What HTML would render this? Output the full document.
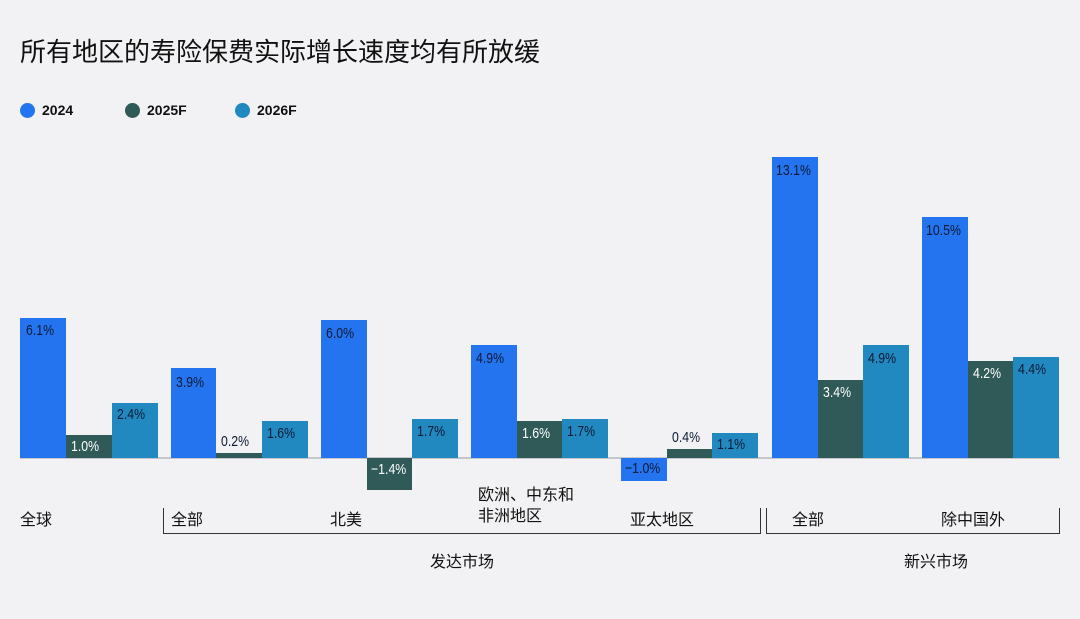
<!DOCTYPE html><html><head><meta charset="utf-8"><style>
body{margin:0;width:1080px;height:619px;background:#f2f2f4;position:relative;overflow:hidden;font-family:"Liberation Sans","Noto Sans CJK SC",sans-serif;color:#111}
.a{position:absolute}
.b{position:absolute}
.c1{background:#2474f0}.c2{background:#2f5a58}.c3{background:#2288c0}
.l{position:absolute;font-family:"Liberation Sans Narrow","Liberation Sans",sans-serif;font-size:15px;color:#0d1a33;white-space:nowrap;transform:scaleX(0.82);transform-origin:left top}
.w{color:#fff}
.cat{position:absolute;font-size:16px;top:506px;white-space:nowrap}
.lg{position:absolute;top:102px;font-size:14px;font-weight:bold}
.dot{position:absolute;top:103px;width:15px;height:15px;border-radius:50%}
</style></head><body>
<div class="a" style="left:20px;top:32px;font-size:26px;">所有地区的寿险保费实际增长速度均有所放缓</div>
<div class="dot c1" style="left:20px"></div><div class="lg" style="left:42px">2024</div>
<div class="dot c2" style="left:125px"></div><div class="lg" style="left:147px">2025F</div>
<div class="dot c3" style="left:235px"></div><div class="lg" style="left:257px">2026F</div>
<div class="a" style="left:20px;top:457px;width:1040px;height:2px;background:#c4c6cc"></div>

<div class="b c1" style="left:20px;top:318px;width:46px;height:140px"></div><div class="l" style="left:26px;top:322px">6.1%</div>
<div class="b c2" style="left:66px;top:435px;width:46px;height:23px"></div><div class="l w" style="left:71px;top:438px">1.0%</div>
<div class="b c3" style="left:112px;top:403px;width:46px;height:55px"></div><div class="l" style="left:117px;top:406px">2.4%</div>

<div class="b c1" style="left:171px;top:368px;width:45px;height:90px"></div><div class="l" style="left:176px;top:374px">3.9%</div>
<div class="b c2" style="left:216px;top:453px;width:46px;height:5px"></div><div class="l" style="left:221px;top:433px">0.2%</div>
<div class="b c3" style="left:262px;top:421px;width:46px;height:37px"></div><div class="l" style="left:267px;top:425px">1.6%</div>

<div class="b c1" style="left:321px;top:320px;width:46px;height:138px"></div><div class="l" style="left:326px;top:325px">6.0%</div>
<div class="b c2" style="left:367px;top:458px;width:45px;height:32px"></div><div class="l w" style="left:371px;top:461px">−1.4%</div>
<div class="b c3" style="left:412px;top:419px;width:46px;height:39px"></div><div class="l" style="left:417px;top:423px">1.7%</div>

<div class="b c1" style="left:471px;top:345px;width:46px;height:113px"></div><div class="l" style="left:476px;top:350px">4.9%</div>
<div class="b c2" style="left:517px;top:421px;width:45px;height:37px"></div><div class="l w" style="left:522px;top:425px">1.6%</div>
<div class="b c3" style="left:562px;top:419px;width:46px;height:39px"></div><div class="l" style="left:567px;top:423px">1.7%</div>

<div class="b c1" style="left:621px;top:458px;width:46px;height:23px"></div><div class="l" style="left:625px;top:460px">−1.0%</div>
<div class="b c2" style="left:667px;top:449px;width:45px;height:9px"></div><div class="l" style="left:672px;top:429px">0.4%</div>
<div class="b c3" style="left:712px;top:433px;width:46px;height:25px"></div><div class="l" style="left:717px;top:436px">1.1%</div>

<div class="b c1" style="left:772px;top:157px;width:46px;height:301px"></div><div class="l" style="left:776px;top:162px">13.1%</div>
<div class="b c2" style="left:818px;top:380px;width:45px;height:78px"></div><div class="l w" style="left:823px;top:384px">3.4%</div>
<div class="b c3" style="left:863px;top:345px;width:46px;height:113px"></div><div class="l" style="left:868px;top:350px">4.9%</div>

<div class="b c1" style="left:922px;top:217px;width:46px;height:241px"></div><div class="l" style="left:926px;top:222px">10.5%</div>
<div class="b c2" style="left:968px;top:361px;width:45px;height:97px"></div><div class="l w" style="left:973px;top:365px">4.2%</div>
<div class="b c3" style="left:1013px;top:357px;width:46px;height:101px"></div><div class="l" style="left:1018px;top:361px">4.4%</div>

<div class="cat" style="left:20px">全球</div>
<div class="cat" style="left:171px">全部</div>
<div class="cat" style="left:330px">北美</div>
<div class="cat" style="left:478px;top:485px;line-height:21px">欧洲、中东和<br>非洲地区</div>
<div class="cat" style="left:630px">亚太地区</div>
<div class="cat" style="left:792px">全部</div>
<div class="cat" style="left:941px">除中国外</div>

<div class="a" style="left:163px;top:508px;width:1px;height:25px;background:#333"></div>
<div class="a" style="left:163px;top:533px;width:598px;height:1px;background:#333"></div>
<div class="a" style="left:760px;top:508px;width:1px;height:26px;background:#333"></div>
<div class="a" style="left:766px;top:508px;width:1px;height:25px;background:#333"></div>
<div class="a" style="left:766px;top:533px;width:294px;height:1px;background:#333"></div>
<div class="a" style="left:1059px;top:508px;width:1px;height:26px;background:#333"></div>
<div class="cat" style="left:430px;top:548px">发达市场</div>
<div class="cat" style="left:904px;top:548px">新兴市场</div>
</body></html>
